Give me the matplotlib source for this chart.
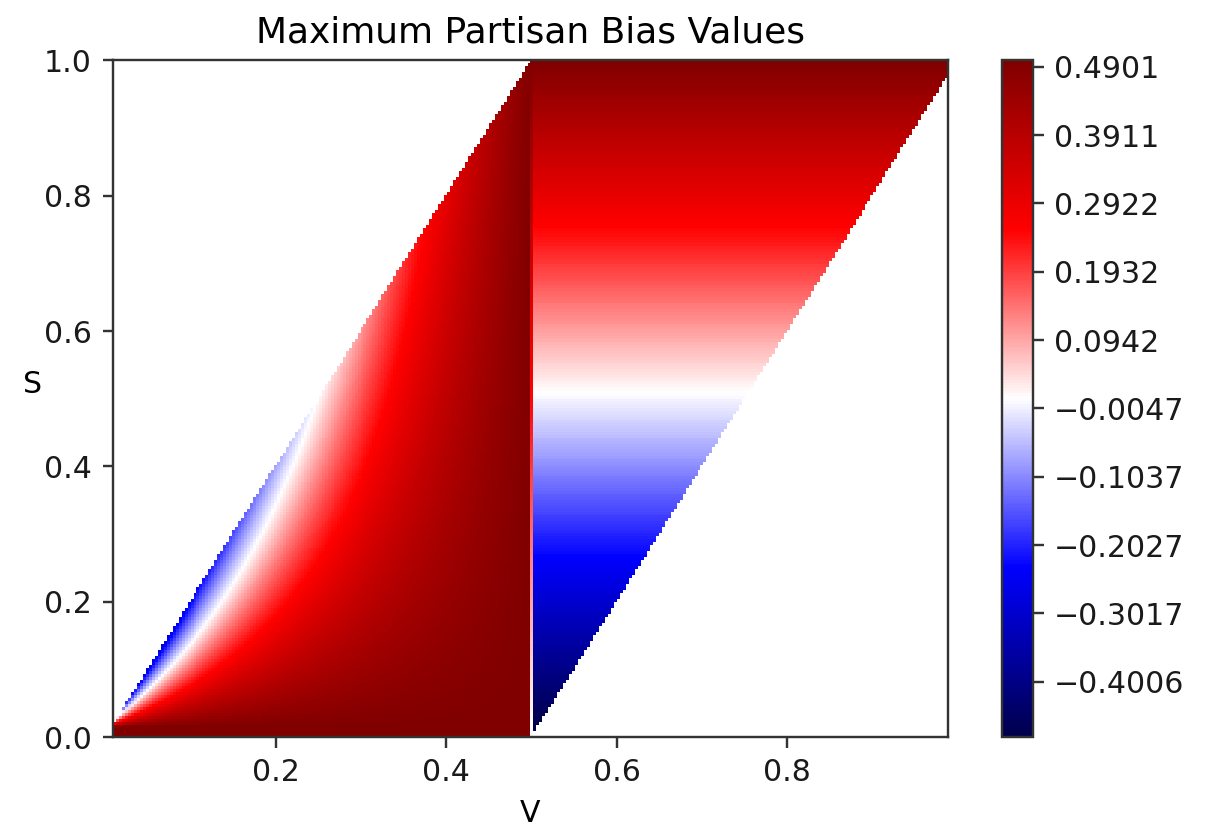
import numpy as np
import matplotlib.pyplot as plt
from matplotlib.colors import Normalize

# axis ranges of the grid (vote share V, seat share S) and cell counts
v_lim = [0.009, 0.989]
s_lim = [0.0, 1.0]
n_v, n_s = 280, 226

# colour limits and colorbar ticks
bias_min, bias_max = -0.4807, 0.4994
cbar_ticks = [-0.4006, -0.3017, -0.2027, -0.1037, -0.0047,
              0.0942, 0.1932, 0.2922, 0.3911, 0.4901]

# small shift in S seen in the left (V < 0.5) half
seat_offset = 0.015

plt.rcParams["axes.edgecolor"] = "#333333"
plt.rcParams["xtick.color"] = "#333333"
plt.rcParams["ytick.color"] = "#333333"
plt.rcParams["xtick.labelcolor"] = "#1a1a1a"
plt.rcParams["ytick.labelcolor"] = "#1a1a1a"


def max_bias(V, S, dv):
    left = 0.5 - np.clip(S - seat_offset, 0, None) * (1 - 2 * V) / (2 * V)
    right = S - 0.5
    B = np.where(V < 0.5, left, right)
    # the column that straddles V = 0.5 gets a mix of both halves
    mid = np.abs(V - 0.5) < dv / 2
    B = np.where(mid, 0.5 * (0.5 + right), B)
    feasible = (S <= 2 * V + dv / 2) & (S >= 2 * V - 1)
    return np.ma.masked_invalid(np.where(feasible, B, np.nan))


v_edges = np.linspace(v_lim[0], v_lim[1], n_v + 1)
s_edges = np.linspace(s_lim[0], s_lim[1], n_s + 1)
v_mid = 0.5 * (v_edges[1:] + v_edges[:-1])
s_mid = 0.5 * (s_edges[1:] + s_edges[:-1])
VV, SS = np.meshgrid(v_mid, s_mid)
bias = max_bias(VV, SS, v_edges[1] - v_edges[0])

fig = plt.figure(figsize=(5.5882, 3.8290), dpi=216)
ax = fig.add_axes([0.0936, 0.1088, 0.6918, 0.8183])
mesh = ax.pcolormesh(v_edges, s_edges, bias, cmap="seismic",
                     norm=Normalize(bias_min, bias_max))
ax.set_xlim(v_lim)
ax.set_ylim(s_lim)
ax.set_title("Maximum Partisan Bias Values")
ax.set_xlabel("V")
ax.set_ylabel("S", rotation=0)

cax = fig.add_axes([0.8298, 0.1088, 0.0261, 0.8183])
cb = fig.colorbar(mesh, cax=cax)
cb.set_ticks(cbar_ticks, labels=[f"{t:.4f}".replace("-", "\u2212") for t in cbar_ticks])
cb.outline.set_edgecolor("#333333")

fig.savefig("out.png", dpi=216)
plt.close(fig)
